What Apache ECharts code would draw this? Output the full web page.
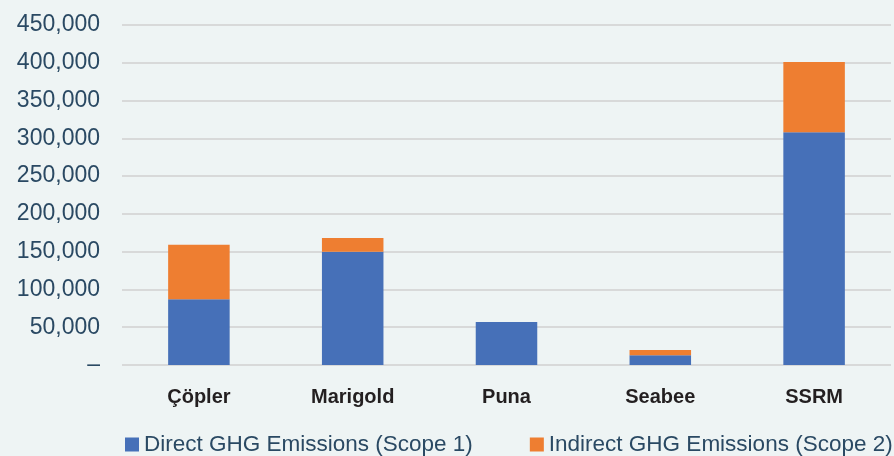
<!DOCTYPE html>
<html>
<head>
<meta charset="utf-8">
<script src="https://cdn.jsdelivr.net/npm/echarts@6/dist/echarts.min.js"></script>
<style>
  html, body { margin: 0; padding: 0; background: #eef4f4; }
  #container { width: 894px; height: 456px; }
</style>
</head>
<body>
<div id="container"></div>
<script>
// values (tonnes CO2e)
const sites = ["Çöpler", "Marigold", "Puna", "Seabee", "SSRM"];
const scope1 = [87000, 150000, 57000, 13000, 308000];
const scope2 = [72000, 18000, 0, 7000, 93000];
const seriesNames = ["Direct GHG Emissions (Scope 1)", "Indirect GHG Emissions (Scope 2)"];

var dom = document.getElementById('container');
var myChart = echarts.init(dom, null, { renderer: 'canvas' });

var option = {
    backgroundColor: '#eef4f4',
    animation: false,
    color: ['#4670b8', '#ee7e31'],
    textStyle: { fontFamily: 'Liberation Sans, Arial, sans-serif' },
    grid: {
        left: 122,
        right: 3,
        top: 25,
        bottom: 91
    },
    legend: {
        left: 120,
        top: 428,
        width: 900,
        itemWidth: 14,
        itemHeight: 14,
        itemGap: 57,
        icon: 'rect',
        textStyle: { fontSize: 22.5, color: '#2a4963' },
        data: seriesNames
    },
    xAxis: [{
        type: 'category',
        data: sites,
        axisLine: { show: false },
        axisTick: { show: false },
        axisLabel: {
            margin: 22,
            fontSize: 20,
            fontWeight: 'bold',
            color: '#231f20'
        }
    }],
    yAxis: [{
        type: 'value',
        min: 0,
        max: 450000,
        interval: 50000,
        axisLine: { show: false },
        axisTick: { show: false },
        splitLine: { lineStyle: { color: '#d8d9d9', width: 2 } },
        axisLabel: {
            margin: 22,
            fontSize: 23,
            color: '#2a4963',
            formatter: function (v) {
                return v === 0 ? '–' : v.toLocaleString('en-US');
            }
        }
    }],
    series: [{
        name: seriesNames[0],
        type: 'bar',
        stack: 'total',
        barWidth: '40%',
        data: scope1
    }, {
        name: seriesNames[1],
        type: 'bar',
        stack: 'total',
        barWidth: '40%',
        data: scope2
    }]
};

myChart.setOption(option);
window.addEventListener('resize', myChart.resize);
</script>
</body>
</html>
